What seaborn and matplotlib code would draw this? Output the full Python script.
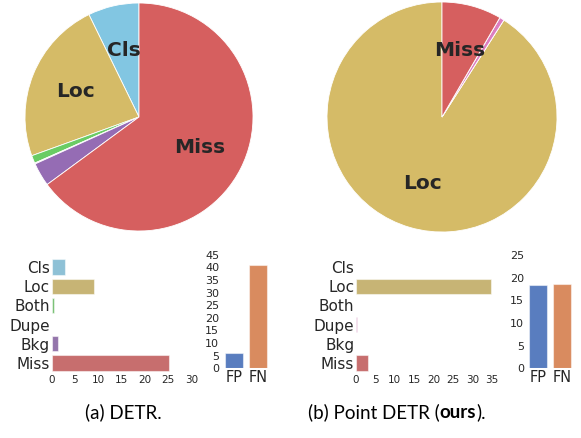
import matplotlib
matplotlib.use('Agg')
import matplotlib.pyplot as plt
import seaborn as sns
import pandas as pd

# error types (TIDE style)
error_types = ["Cls", "Loc", "Both", "Dupe", "Bkg", "Miss"]
detr_errors = [2.8, 9.0, 0.43, 0.05, 1.29, 25.1]
point_detr_errors = [0.0, 34.7, 0.0, 0.25, 0.0, 3.2]

fpfn_labels = ["FP", "FN"]
detr_fpfn = [5.95, 40.8]
point_detr_fpfn = [18.4, 18.6]

captions = ["(a) DETR.", "(b) Point DETR (", "ours", ")."]

sns.set_theme(style="white")
muted = sns.color_palette("muted")
err_colors = [muted[9], muted[8], muted[2], muted[6], muted[4], muted[3]]
fpfn_colors = [muted[0], muted[1]]
TXT = "#262626"

W, H = 581, 438
fig = plt.figure(figsize=(W / 100, H / 100), dpi=100)


def px_axes(x0, y0, x1, y1):
    # pixel box (top-left origin) -> figure axes
    return fig.add_axes([x0 / W, 1 - y1 / H, (x1 - x0) / W, (y1 - y0) / H])


def draw_pie(box, values):
    ax = px_axes(*box)
    total = sum(values)
    labels = [t if v / total > 0.05 else "" for t, v in zip(error_types, values)]
    ax.pie(values, labels=labels, colors=err_colors, startangle=90,
           counterclock=True, labeldistance=0.6,
           wedgeprops=dict(edgecolor="white", linewidth=0.6),
           textprops=dict(fontsize=14.5, fontweight="bold", color=TXT,
                          ha="center", va="center"))
    ax.set_xlim(-1, 1)
    ax.set_ylim(-1, 1)
    ax.set_aspect("equal")
    ax.axis("off")


def draw_hbar(box, values, xmax, xticks):
    ax = px_axes(*box)
    df = pd.DataFrame({"type": error_types, "value": values})
    sns.barplot(data=df, x="value", y="type", hue="type", palette=err_colors,
                legend=False, orient="h", ax=ax, width=0.8,
                edgecolor=(1, 1, 1, 0.5), linewidth=0.8)
    ax.set_xlim(0, xmax)
    ax.set_xticks(xticks)
    ax.set_xlabel("")
    ax.set_ylabel("")
    ax.tick_params(axis="y", labelsize=11, colors=TXT, pad=1, length=0)
    ax.tick_params(axis="x", labelsize=7.5, colors=TXT, pad=2, length=0)
    sns.despine(ax=ax, left=True, bottom=True)


def draw_vbar(box, values, ymax, yticks):
    ax = px_axes(*box)
    df = pd.DataFrame({"kind": fpfn_labels, "value": values})
    sns.barplot(data=df, x="kind", y="value", hue="kind", palette=fpfn_colors,
                legend=False, ax=ax, width=0.76,
                edgecolor=(1, 1, 1, 0.5), linewidth=0.8)
    ax.set_ylim(0, ymax)
    ax.set_yticks(yticks)
    ax.set_xlabel("")
    ax.set_ylabel("")
    ax.tick_params(axis="x", labelsize=10.5, colors=TXT, pad=1, length=0)
    ax.tick_params(axis="y", labelsize=8, colors=TXT, pad=2, length=0)
    sns.despine(ax=ax, left=True, bottom=True)


draw_pie((25, 3, 253, 231), detr_errors)
draw_pie((327, 2, 557, 232), point_detr_errors)

draw_hbar((51.5, 257.5, 191.5, 372.5), detr_errors, 30, range(0, 31, 5))
draw_hbar((355.7, 257.5, 491.7, 372.5), point_detr_errors, 35, range(0, 36, 5))

draw_vbar((222, 254.7, 270, 368.3), detr_fpfn, 45, range(0, 46, 5))
draw_vbar((526.6, 255.3, 573.4, 368.3), point_detr_fpfn, 25, range(0, 26, 5))

# captions
cap_font = dict(fontsize=13.5, color="black", family=["Lato", "DejaVu Sans"])
fig.text(123.5 / W, 1 - 412 / H, captions[0], ha="center", va="center", **cap_font)

fig.canvas.draw()
r = fig.canvas.get_renderer()
parts = [(captions[1], "normal"), (captions[2], "bold"), (captions[3], "normal")]
texts = [fig.text(0, 1 - 412 / H, s, va="center", fontweight=w, **cap_font) for s, w in parts]
widths = [t.get_window_extent(r).width for t in texts]
x = 397 - sum(widths) / 2
for t, w in zip(texts, widths):
    t.set_x(x / W)
    x += w

fig.savefig("out.png", dpi=100)
